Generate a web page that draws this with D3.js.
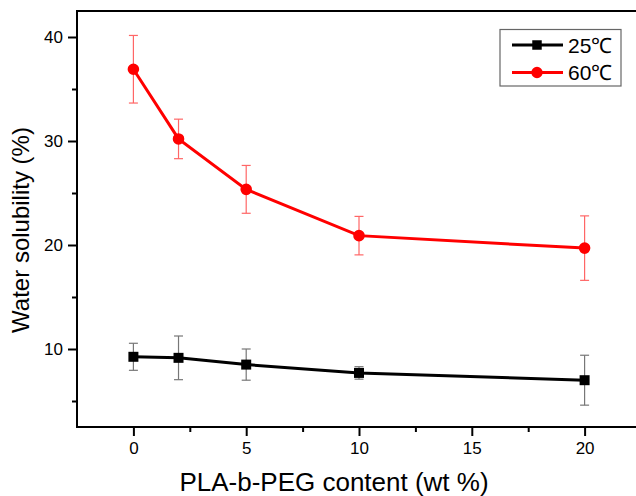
<!DOCTYPE html>
<html>
<head>
<meta charset="UTF-8">
<script src="https://d3js.org/d3.v7.min.js"></script>
<style>
  body { margin: 0; background: #fff; }
  text { font-family: "Liberation Sans", Arial, sans-serif; }
</style>
</head>
<body>
<svg id="chart" width="636" height="496"></svg>
<script>
// data
const content = [0, 2, 5, 10, 20];
const sol25 = [9.25, 9.15, 8.5, 7.7, 7.0];
const err25 = [1.3, 2.1, 1.5, 0.6, 2.4];
const sol60 = [36.9, 30.2, 25.35, 20.9, 19.7];
const err60 = [3.25, 1.9, 2.3, 1.85, 3.1];
const xTicks = [0, 5, 10, 15, 20];
const yTicks = [10, 20, 30, 40];
const series = [
  { name: "25℃", vals: sol25, errs: err25, color: "#000", errColor: "#777", shape: "square" },
  { name: "60℃", vals: sol60, errs: err60, color: "#ff0000", errColor: "#ff6666", shape: "circle" }
];

const svg = d3.select("#chart");
const pLeft = 77, pTop = 11, pRight = 641, pBottom = 427;

const x = d3.scaleLinear().domain([-2.5, 22.5]).range([pLeft, pRight]);
const y = d3.scaleLinear().domain([2.5, 42.5]).range([pBottom, pTop]);

// minor ticks
svg.append("g")
  .attr("transform", "translate(0," + pBottom + ")")
  .call(d3.axisBottom(x).tickValues([2.5, 7.5, 12.5, 17.5]).tickSize(5).tickFormat(""))
  .call(g => g.select(".domain").remove())
  .selectAll("line").attr("stroke-width", 2);
svg.append("g")
  .attr("transform", "translate(" + pLeft + ",0)")
  .call(d3.axisLeft(y).tickValues([5, 15, 25, 35]).tickSize(5).tickFormat(""))
  .call(g => g.select(".domain").remove())
  .selectAll("line").attr("stroke-width", 2);

// major ticks + labels
const xAxis = svg.append("g")
  .attr("transform", "translate(0," + pBottom + ")")
  .call(d3.axisBottom(x).tickValues(xTicks).tickSize(9).tickPadding(6).tickSizeOuter(0));
xAxis.select(".domain").remove();
xAxis.selectAll("line").attr("stroke-width", 2);
xAxis.selectAll("text").attr("font-size", 17).attr("fill", "#000")
  .attr("font-family", "Liberation Sans, Arial, sans-serif");

const yAxis = svg.append("g")
  .attr("transform", "translate(" + pLeft + ",0)")
  .call(d3.axisLeft(y).tickValues(yTicks).tickSize(9).tickPadding(5).tickSizeOuter(0));
yAxis.select(".domain").remove();
yAxis.selectAll("line").attr("stroke-width", 2);
yAxis.selectAll("text").attr("font-size", 17).attr("fill", "#000")
  .attr("font-family", "Liberation Sans, Arial, sans-serif");

// frame
svg.append("rect")
  .attr("x", pLeft).attr("y", pTop)
  .attr("width", pRight - pLeft).attr("height", pBottom - pTop)
  .attr("fill", "none").attr("stroke", "#000").attr("stroke-width", 2);

// error bars
series.forEach(s => {
  const g = svg.append("g").attr("stroke", s.errColor).attr("stroke-width", 1.2);
  content.forEach((c, i) => {
    const cx = x(c), hi = y(s.vals[i] + s.errs[i]), lo = y(s.vals[i] - s.errs[i]);
    g.append("line").attr("x1", cx).attr("x2", cx).attr("y1", hi).attr("y2", lo);
    g.append("line").attr("x1", cx - 4.5).attr("x2", cx + 4.5).attr("y1", hi).attr("y2", hi);
    g.append("line").attr("x1", cx - 4.5).attr("x2", cx + 4.5).attr("y1", lo).attr("y2", lo);
  });
});

// lines and markers
const line = d3.line().x((d, i) => x(content[i])).y(d => y(d));
series.forEach(s => {
  svg.append("path").datum(s.vals)
    .attr("d", line).attr("fill", "none")
    .attr("stroke", s.color).attr("stroke-width", 3);
  const sym = d3.symbol().type(s.shape === "square" ? d3.symbolSquare : d3.symbolCircle)
    .size(s.shape === "square" ? 100 : 105);
  svg.append("g").selectAll("path").data(s.vals).enter().append("path")
    .attr("d", sym)
    .attr("transform", (d, i) => "translate(" + x(content[i]) + "," + y(d) + ")")
    .attr("fill", s.color);
});

// axis titles
svg.append("text")
  .attr("x", 334).attr("y", 491)
  .attr("text-anchor", "middle").attr("font-size", 26)
  .text("PLA-b-PEG content (wt %)");
svg.append("text")
  .attr("transform", "translate(29,230) rotate(-90)")
  .attr("text-anchor", "middle").attr("font-size", 24)
  .text("Water solubility (%)");

// legend
const lg = svg.append("g");
lg.append("rect")
  .attr("x", 500).attr("y", 29.5).attr("width", 121).attr("height", 56.5)
  .attr("fill", "#fff").attr("stroke", "#666").attr("stroke-width", 1.2);
series.forEach((s, i) => {
  const ly = 45 + i * 27.5;
  lg.append("line").attr("x1", 512).attr("x2", 563).attr("y1", ly).attr("y2", ly)
    .attr("stroke", s.color).attr("stroke-width", 3);
  const sym = d3.symbol().type(s.shape === "square" ? d3.symbolSquare : d3.symbolCircle)
    .size(s.shape === "square" ? 90 : 100);
  lg.append("path").attr("d", sym).attr("transform", "translate(537," + ly + ")").attr("fill", s.color);
  lg.append("text").attr("x", 568).attr("y", ly + 7.5)
    .attr("font-size", 21).text(s.name);
});
</script>
</body>
</html>
